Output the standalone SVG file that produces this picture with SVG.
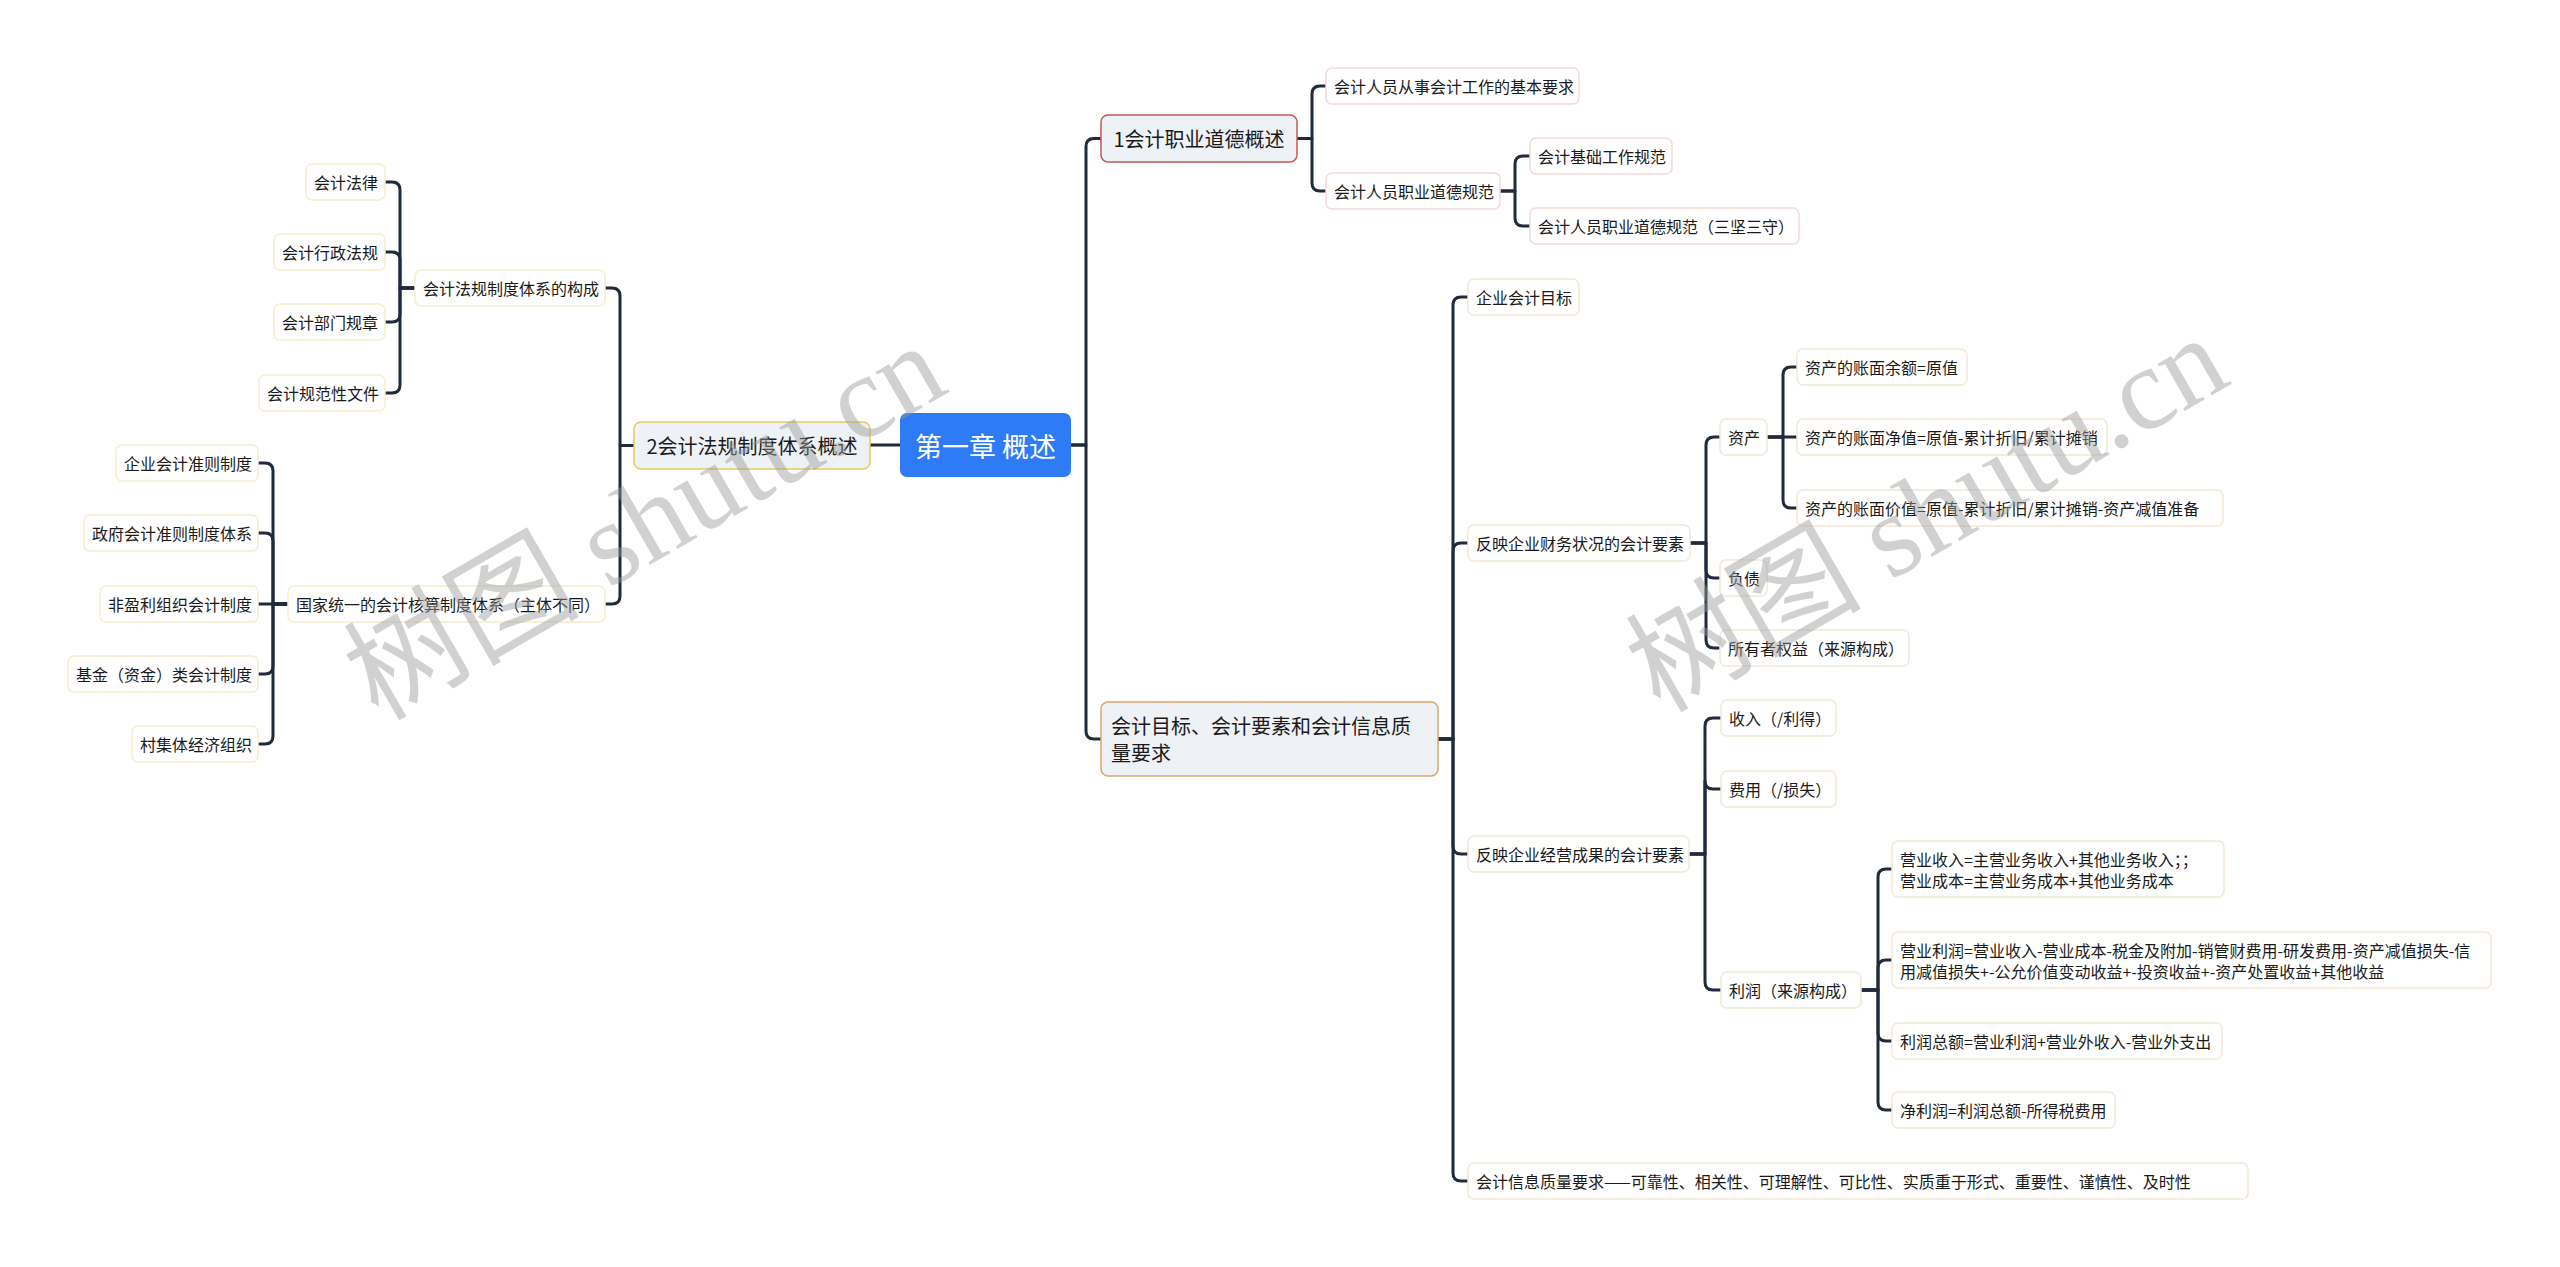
<svg xmlns="http://www.w3.org/2000/svg" width="2560" height="1267" viewBox="0 0 2560 1267">
<style>
text{font-family:"Noto Sans CJK SC","Noto Sans",sans-serif;fill:#1a1a1a;dominant-baseline:central}
.c{text-anchor:middle}
.f16{font-size:16px}
.f20{font-size:20px}
.leafP{fill:#ffffff;stroke:#f3d9d9;stroke-width:1.5}
.leafY{fill:#ffffff;stroke:#f7eecf;stroke-width:1.5}
.leafB{fill:#ffffff;stroke:#f4e8d8;stroke-width:1.5}
.l1{fill:#eef1f5;stroke-width:1.5}
.conn path{fill:none;stroke:#1f2a3a;stroke-width:3;stroke-linecap:round;stroke-linejoin:round}
.wm{font-family:"Liberation Serif","Noto Sans CJK SC",serif;font-size:118px;fill:#9a9a9a;opacity:0.45;text-anchor:middle;dominant-baseline:central}
</style>
<rect width="2560" height="1267" fill="#ffffff"/>
<g class="conn" id="connectors">
<path d="M1071,445 H1086 V146.5 Q1086,138.5 1094,138.5 H1101"/>
<path d="M1071,445 H1086 V731 Q1086,739 1094,739 H1101"/>
<path d="M900,445 H870"/>
<path d="M634,445.5 H620 V296 Q620,288 612,288 H605"/>
<path d="M634,445.5 H620 V596 Q620,604 612,604 H605"/>
<path d="M415,288 H400 V190 Q400,182 392,182 H385"/>
<path d="M415,288 H400 V260 Q400,252 392,252 H385"/>
<path d="M415,288 H400 V314 Q400,322 392,322 H385"/>
<path d="M415,288 H400 V385 Q400,393 392,393 H385"/>
<path d="M288,604 H273 V471 Q273,463 265,463 H258"/>
<path d="M288,604 H273 V541 Q273,533 265,533 H258"/>
<path d="M288,604 H258"/>
<path d="M288,604 H273 V666 Q273,674 265,674 H258"/>
<path d="M288,604 H273 V736 Q273,744 265,744 H258"/>
<path d="M1297,138.5 H1312 V94 Q1312,86 1320,86 H1326"/>
<path d="M1297,138.5 H1312 V183 Q1312,191 1320,191 H1326"/>
<path d="M1500,191 H1515 V164 Q1515,156 1523,156 H1530"/>
<path d="M1500,191 H1515 V218 Q1515,226 1523,226 H1530"/>
<path d="M1438,739 H1453 V305 Q1453,297 1461,297 H1468"/>
<path d="M1438,739 H1453 V551 Q1453,543 1461,543 H1468"/>
<path d="M1438,739 H1453 V846 Q1453,854 1461,854 H1468"/>
<path d="M1438,739 H1453 V1173 Q1453,1181 1461,1181 H1468"/>
<path d="M1690,543 H1706 V445 Q1706,437 1714,437 H1720"/>
<path d="M1690,543 H1706 V570 Q1706,578 1714,578 H1720"/>
<path d="M1690,543 H1706 V640 Q1706,648 1714,648 H1720"/>
<path d="M1767,437 H1783 V375 Q1783,367 1791,367 H1797"/>
<path d="M1767,437 H1797"/>
<path d="M1767,437 H1783 V500 Q1783,508 1791,508 H1797"/>
<path d="M1689,854 H1705 V726 Q1705,718 1713,718 H1721"/>
<path d="M1689,854 H1705 V781 Q1705,789 1713,789 H1721"/>
<path d="M1689,854 H1705 V982 Q1705,990 1713,990 H1721"/>
<path d="M1861,990 H1878 V877 Q1878,869 1886,869 H1892"/>
<path d="M1861,990 H1878 V968 Q1878,960 1886,960 H1892"/>
<path d="M1861,990 H1878 V1033 Q1878,1041 1886,1041 H1892"/>
<path d="M1861,990 H1878 V1102 Q1878,1110 1886,1110 H1892"/>
</g>
<g id="root"><rect x="900" y="413" width="171" height="64" rx="7" fill="#2f7bf6"/><text class="c" x="985.5" y="445" style="font-size:27px;fill:#ffffff">第一章 概述</text></g>
<g id="n1"><rect class="l1" x="1101" y="115" width="196" height="47" rx="7" stroke="#c65a4e"/><text class="c f20" x="1199" y="138.5">1会计职业道德概述</text></g>
<g id="n2"><rect class="l1" x="634" y="422" width="236" height="47" rx="7" stroke="#e3cb63"/><text class="c f20" x="752" y="445.5">2会计法规制度体系概述</text></g>
<g id="n3"><rect class="l1" x="1101" y="702" width="337" height="74" rx="7" stroke="#d9a86c"/><text class="f20" x="1111" y="725">会计目标、会计要素和会计信息质</text><text class="f20" x="1111" y="752">量要求</text></g>

<g id="n1a"><rect class="leafP" x="1326" y="68" width="253" height="36" rx="6"/><text class="f16" x="1334" y="86">会计人员从事会计工作的基本要求</text></g>
<g id="n1b"><rect class="leafP" x="1326" y="173" width="174" height="36" rx="6"/><text class="f16" x="1334" y="191">会计人员职业道德规范</text></g>
<g id="n1b1"><rect class="leafP" x="1530" y="138" width="142" height="36" rx="6"/><text class="f16" x="1538" y="156">会计基础工作规范</text></g>
<g id="n1b2"><rect class="leafP" x="1530" y="208" width="269" height="36" rx="6"/><text class="f16" x="1538" y="226">会计人员职业道德规范（三坚三守）</text></g>

<g id="n2a"><rect class="leafY" x="415" y="270" width="190" height="36" rx="6"/><text class="f16" x="423" y="288">会计法规制度体系的构成</text></g>
<g id="n2a1"><rect class="leafY" x="306" y="164" width="79" height="36" rx="6"/><text class="f16" x="314" y="182">会计法律</text></g>
<g id="n2a2"><rect class="leafY" x="274" y="234" width="111" height="36" rx="6"/><text class="f16" x="282" y="252">会计行政法规</text></g>
<g id="n2a3"><rect class="leafY" x="274" y="304" width="111" height="36" rx="6"/><text class="f16" x="282" y="322">会计部门规章</text></g>
<g id="n2a4"><rect class="leafY" x="259" y="375" width="126" height="36" rx="6"/><text class="f16" x="267" y="393">会计规范性文件</text></g>
<g id="n2b"><rect class="leafY" x="288" y="586" width="317" height="36" rx="6"/><text class="f16" x="296" y="604">国家统一的会计核算制度体系（主体不同）</text></g>
<g id="n2b1"><rect class="leafY" x="116" y="445" width="142" height="36" rx="6"/><text class="f16" x="124" y="463">企业会计准则制度</text></g>
<g id="n2b2"><rect class="leafY" x="84" y="515" width="174" height="36" rx="6"/><text class="f16" x="92" y="533">政府会计准则制度体系</text></g>
<g id="n2b3"><rect class="leafY" x="100" y="586" width="158" height="36" rx="6"/><text class="f16" x="108" y="604">非盈利组织会计制度</text></g>
<g id="n2b4"><rect class="leafY" x="68" y="656" width="190" height="36" rx="6"/><text class="f16" x="76" y="674">基金（资金）类会计制度</text></g>
<g id="n2b5"><rect class="leafY" x="132" y="726" width="126" height="36" rx="6"/><text class="f16" x="140" y="744">村集体经济组织</text></g>

<g id="n3a"><rect class="leafB" x="1468" y="279" width="111" height="36" rx="6"/><text class="f16" x="1476" y="297">企业会计目标</text></g>
<g id="n3b"><rect class="leafB" x="1468" y="525" width="222" height="36" rx="6"/><text class="f16" x="1476" y="543">反映企业财务状况的会计要素</text></g>
<g id="n3b1"><rect class="leafB" x="1720" y="419" width="47" height="36" rx="6"/><text class="f16" x="1728" y="437">资产</text></g>
<g id="n3b1a"><rect class="leafB" x="1797" y="349" width="170" height="36" rx="6"/><text class="f16" x="1805" y="367">资产的账面余额=原值</text></g>
<g id="n3b1b"><rect class="leafB" x="1797" y="419" width="310" height="36" rx="6"/><text class="f16" x="1805" y="437">资产的账面净值=原值-累计折旧/累计摊销</text></g>
<g id="n3b1c"><rect class="leafB" x="1797" y="490" width="426" height="36" rx="6"/><text class="f16" x="1805" y="508">资产的账面价值=原值-累计折旧/累计摊销-资产减值准备</text></g>
<g id="n3b2"><rect class="leafB" x="1720" y="560" width="47" height="36" rx="6"/><text class="f16" x="1728" y="578">负债</text></g>
<g id="n3b3"><rect class="leafB" x="1720" y="630" width="189" height="36" rx="6"/><text class="f16" x="1728" y="648">所有者权益（来源构成）</text></g>
<g id="n3c"><rect class="leafB" x="1468" y="836" width="221" height="36" rx="6"/><text class="f16" x="1476" y="854">反映企业经营成果的会计要素</text></g>
<g id="n3c1"><rect class="leafB" x="1721" y="700" width="115" height="36" rx="6"/><text class="f16" x="1729" y="718">收入（/利得）</text></g>
<g id="n3c2"><rect class="leafB" x="1721" y="771" width="115" height="36" rx="6"/><text class="f16" x="1729" y="789">费用（/损失）</text></g>
<g id="n3c3"><rect class="leafB" x="1721" y="972" width="140" height="36" rx="6"/><text class="f16" x="1729" y="990">利润（来源构成）</text></g>
<g id="n3c3a"><rect class="leafB" x="1892" y="841" width="332" height="56" rx="6"/><text class="f16" x="1900" y="859">营业收入=主营业务收入+其他业务收入；；</text><text class="f16" x="1900" y="880">营业成本=主营业务成本+其他业务成本</text></g>
<g id="n3c3b"><rect class="leafB" x="1892" y="932" width="599" height="56" rx="6"/><text class="f16" x="1900" y="950">营业利润=营业收入-营业成本-税金及附加-销管财费用-研发费用-资产减值损失-信</text><text class="f16" x="1900" y="971">用减值损失+-公允价值变动收益+-投资收益+-资产处置收益+其他收益</text></g>
<g id="n3c3c"><rect class="leafB" x="1892" y="1023" width="330" height="36" rx="6"/><text class="f16" x="1900" y="1041">利润总额=营业利润+营业外收入-营业外支出</text></g>
<g id="n3c3d"><rect class="leafB" x="1892" y="1092" width="223" height="36" rx="6"/><text class="f16" x="1900" y="1110">净利润=利润总额-所得税费用</text></g>
<g id="n3d"><rect class="leafB" x="1468" y="1163" width="780" height="36" rx="6"/><text class="f16" x="1476" y="1181">会计信息质量要求——可靠性、相关性、可理解性、可比性、实质重于形式、重要性、谨慎性、及时性</text></g>

<g id="watermark">
<text class="wm" x="645" y="522" transform="rotate(-30 645 522)">树图 shutu.cn</text>
<text class="wm" x="1927" y="514" transform="rotate(-30 1927 514)">树图 shutu.cn</text>
</g>
</svg>
